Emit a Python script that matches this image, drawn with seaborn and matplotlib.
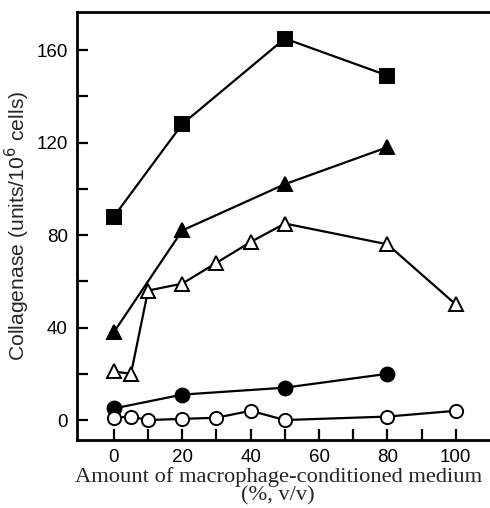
import matplotlib
matplotlib.use("Agg")
import matplotlib.pyplot as plt
import seaborn as sns
import pandas as pd
import numpy as np

# Data
sq_x = [0, 20, 50, 80]
sq_y = [88, 128, 165, 149]

tri_f_x = [0, 20, 50, 80]
tri_f_y = [38, 82, 102, 118]

tri_o_x = [0, 5, 10, 20, 30, 40, 50, 80, 100]
tri_o_y = [21, 20, 56, 59, 68, 77, 85, 76, 50]

circ_f_x = [0, 20, 50, 80]
circ_f_y = [5, 11, 14, 20]

circ_o_x = [0, 5, 10, 20, 30, 40, 50, 80, 100]
circ_o_y = [1, 1.5, 0, 0.5, 1, 4, 0, 1.5, 4]

x_ticks = [0, 20, 40, 60, 80, 100]
y_ticks = [0, 40, 80, 120, 160]

sns.set_style("ticks")
plt.rcParams['font.family'] = ['Liberation Sans', 'DejaVu Sans']

fig = plt.figure(figsize=(4.9, 5.08), dpi=100)
ax = fig.add_axes([0.157, 0.134, 0.843, 0.842])

series = [
    (sq_x, sq_y, 's', 'black', 10),
    (tri_f_x, tri_f_y, '^', 'black', 10),
    (tri_o_x, tri_o_y, '^', 'white', 10.5),
    (circ_f_x, circ_f_y, 'o', 'black', 10),
    (circ_o_x, circ_o_y, 'o', 'white', 9.5),
]
for xs, ys, m, fc, ms in series:
    df = pd.DataFrame({"x": xs, "y": ys})
    sns.lineplot(data=df, x="x", y="y", ax=ax, color="black", lw=1.6,
                 marker=m, markersize=ms, markerfacecolor=fc,
                 markeredgecolor="black", markeredgewidth=1.4,
                 estimator=None, sort=False, zorder=3)

ax.set_xlim(-10.8, 110)
ax.set_ylim(-8.6, 176.4)
ax.set_xticks(x_ticks)
ax.set_xticks(np.arange(0, 101, 10), minor=True)
ax.set_yticks(y_ticks)
ax.set_yticks(np.arange(0, 161, 20), minor=True)
ax.tick_params(axis='both', which='both', direction='in', length=8, width=1.6,
               labelsize=13.5, colors='black', pad=6.5)

for s in ['left', 'bottom', 'top']:
    ax.spines[s].set_linewidth(2)
    ax.spines[s].set_color('black')
ax.spines['right'].set_visible(False)

ax.set_xlabel("Amount of macrophage-conditioned medium\n(%, v/v)",
              fontfamily="Liberation Serif", fontsize=16.2, linespacing=0.9)
ax.xaxis.set_label_coords(0.487, -0.064)
ax.set_ylabel("Collagenase (units/10$^6$ cells)", fontfamily="Liberation Sans",
              fontsize=15.2, labelpad=3)

fig.savefig("out.png", dpi=100)
